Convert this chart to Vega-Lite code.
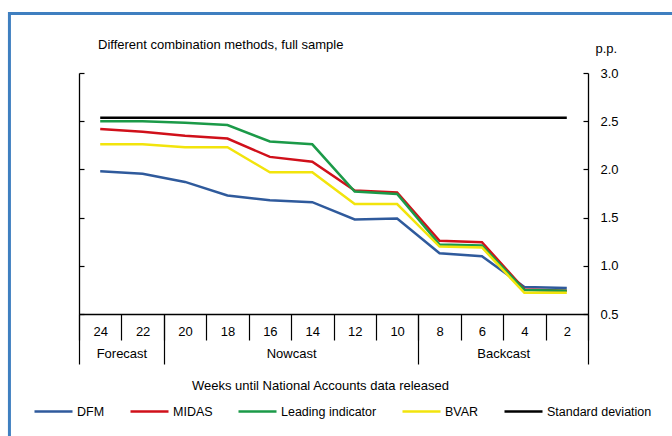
{
  "$schema": "https://vega.github.io/schema/vega-lite/v6.json",
  "width": 509,
  "height": 241,
  "autosize": {"type": "none"},
  "padding": {"left": 79, "top": 73, "right": 84, "bottom": 122},
  "background": "white",
  "config": {
    "font": "Liberation Sans",
    "view": {"stroke": null},
    "axis": {"labelColor": "black", "labelFontSize": 13, "titleColor": "black", "titleFontSize": 13, "titleFontWeight": "normal", "domainColor": "black", "domainWidth": 1.3, "tickColor": "black", "tickWidth": 1.2, "grid": false, "labelFlush": false},
    "legend": {"labelFontSize": 12.5, "labelColor": "black"}
  },
  "title": {"text": "Different combination methods, full sample", "anchor": "start", "frame": "group", "dx": 19, "dy": 40, "fontSize": 13, "fontWeight": "normal", "color": "black", "offset": 0},
  "data": {"values": [
    {"series": "DFM", "week": 24, "value": 1.98},
    {"series": "DFM", "week": 22, "value": 1.955},
    {"series": "DFM", "week": 20, "value": 1.87},
    {"series": "DFM", "week": 18, "value": 1.73},
    {"series": "DFM", "week": 16, "value": 1.68},
    {"series": "DFM", "week": 14, "value": 1.66},
    {"series": "DFM", "week": 12, "value": 1.48},
    {"series": "DFM", "week": 10, "value": 1.49},
    {"series": "DFM", "week": 8, "value": 1.13},
    {"series": "DFM", "week": 6, "value": 1.10},
    {"series": "DFM", "week": 4, "value": 0.78},
    {"series": "DFM", "week": 2, "value": 0.77},
    {"series": "MIDAS", "week": 24, "value": 2.42},
    {"series": "MIDAS", "week": 22, "value": 2.39},
    {"series": "MIDAS", "week": 20, "value": 2.35},
    {"series": "MIDAS", "week": 18, "value": 2.32},
    {"series": "MIDAS", "week": 16, "value": 2.13},
    {"series": "MIDAS", "week": 14, "value": 2.08},
    {"series": "MIDAS", "week": 12, "value": 1.78},
    {"series": "MIDAS", "week": 10, "value": 1.76},
    {"series": "MIDAS", "week": 8, "value": 1.26},
    {"series": "MIDAS", "week": 6, "value": 1.245},
    {"series": "MIDAS", "week": 4, "value": 0.755},
    {"series": "MIDAS", "week": 2, "value": 0.74},
    {"series": "Leading indicator", "week": 24, "value": 2.50},
    {"series": "Leading indicator", "week": 22, "value": 2.50},
    {"series": "Leading indicator", "week": 20, "value": 2.485},
    {"series": "Leading indicator", "week": 18, "value": 2.46},
    {"series": "Leading indicator", "week": 16, "value": 2.29},
    {"series": "Leading indicator", "week": 14, "value": 2.26},
    {"series": "Leading indicator", "week": 12, "value": 1.77},
    {"series": "Leading indicator", "week": 10, "value": 1.745},
    {"series": "Leading indicator", "week": 8, "value": 1.22},
    {"series": "Leading indicator", "week": 6, "value": 1.21},
    {"series": "Leading indicator", "week": 4, "value": 0.75},
    {"series": "Leading indicator", "week": 2, "value": 0.74},
    {"series": "BVAR", "week": 24, "value": 2.26},
    {"series": "BVAR", "week": 22, "value": 2.26},
    {"series": "BVAR", "week": 20, "value": 2.23},
    {"series": "BVAR", "week": 18, "value": 2.23},
    {"series": "BVAR", "week": 16, "value": 1.97},
    {"series": "BVAR", "week": 14, "value": 1.97},
    {"series": "BVAR", "week": 12, "value": 1.64},
    {"series": "BVAR", "week": 10, "value": 1.64},
    {"series": "BVAR", "week": 8, "value": 1.20},
    {"series": "BVAR", "week": 6, "value": 1.19},
    {"series": "BVAR", "week": 4, "value": 0.72},
    {"series": "BVAR", "week": 2, "value": 0.72},
    {"series": "Standard deviation", "week": 24, "value": 2.535},
    {"series": "Standard deviation", "week": 22, "value": 2.535},
    {"series": "Standard deviation", "week": 20, "value": 2.535},
    {"series": "Standard deviation", "week": 18, "value": 2.535},
    {"series": "Standard deviation", "week": 16, "value": 2.535},
    {"series": "Standard deviation", "week": 14, "value": 2.535},
    {"series": "Standard deviation", "week": 12, "value": 2.535},
    {"series": "Standard deviation", "week": 10, "value": 2.535},
    {"series": "Standard deviation", "week": 8, "value": 2.535},
    {"series": "Standard deviation", "week": 6, "value": 2.535},
    {"series": "Standard deviation", "week": 4, "value": 2.535},
    {"series": "Standard deviation", "week": 2, "value": 2.535}
  ]},
  "layer": [
    {
      "transform": [{"filter": "datum.series === 'DFM'"}],
      "mark": {"type": "line", "strokeWidth": 2.5},
      "encoding": {
        "x": {"field": "week", "type": "quantitative", "scale": {"domain": [25, 1], "nice": false, "zero": false},
              "axis": {"orient": "bottom", "values": [24, 22, 20, 18, 16, 14, 12, 10, 8, 6, 4, 2], "ticks": false, "domain": true, "labelPadding": 17, "labelBaseline": "middle", "title": null}},
        "y": {"field": "value", "type": "quantitative", "scale": {"domain": [0.5, 3], "nice": false, "zero": false},
              "axis": {"orient": "left", "values": [0.5, 1, 1.5, 2, 2.5, 3], "labels": false, "tickSize": -5, "domain": true, "title": null}},
        "color": {"field": "series", "type": "nominal",
                  "scale": {"domain": ["DFM", "MIDAS", "Leading indicator", "BVAR", "Standard deviation"], "range": ["#2f5a9c", "#d0101a", "#1b9a48", "#f2e40c", "#000000"]},
                  "legend": {"orient": "none", "legendX": -46, "legendY": 318, "direction": "horizontal", "columns": 5, "title": null, "symbolType": "stroke", "symbolSize": 1444, "symbolStrokeWidth": 2.5, "labelOffset": 3, "columnPadding": 20, "labelFontSize": 12.5}}
      }
    },
    {
      "transform": [{"filter": "datum.series === 'MIDAS'"}],
      "mark": {"type": "line", "strokeWidth": 2.5},
      "encoding": {
        "x": {"field": "week", "type": "quantitative", "scale": {"domain": [25, 1], "nice": false, "zero": false},
              "axis": {"orient": "bottom", "values": [25, 23, 21, 19, 17, 15, 13, 11, 9, 7, 5, 3, 1], "labels": false, "domain": false, "tickSize": 26, "title": null}},
        "y": {"field": "value", "type": "quantitative", "scale": {"domain": [0.5, 3], "nice": false, "zero": false},
              "axis": {"orient": "right", "values": [0.5, 1, 1.5, 2, 2.5, 3], "format": ".1f", "tickSize": -5, "labelPadding": 17, "domain": true,
                       "title": "p.p.", "titleAngle": 0, "titleAlign": "left", "titleBaseline": "alphabetic", "titleX": 7, "titleY": -21}},
        "color": {"field": "series", "type": "nominal"}
      }
    },
    {
      "transform": [{"filter": "datum.series === 'Leading indicator'"}],
      "mark": {"type": "line", "strokeWidth": 2.5},
      "encoding": {
        "x": {"field": "week", "type": "quantitative", "scale": {"domain": [25, 1], "nice": false, "zero": false},
              "axis": {"orient": "bottom", "values": [25, 21, 9, 1], "labels": false, "domain": false, "tickSize": 50, "title": null}},
        "y": {"field": "value", "type": "quantitative", "scale": {"domain": [0.5, 3], "nice": false, "zero": false}, "axis": null},
        "color": {"field": "series", "type": "nominal"}
      }
    },
    {
      "transform": [{"filter": "datum.series === 'BVAR'"}],
      "mark": {"type": "line", "strokeWidth": 2.5},
      "encoding": {
        "x": {"field": "week", "type": "quantitative", "scale": {"domain": [25, 1], "nice": false, "zero": false},
              "axis": {"orient": "bottom", "values": [23, 15, 5], "labelExpr": "datum.value == 23 ? 'Forecast' : datum.value == 15 ? 'Nowcast' : 'Backcast'", "ticks": false, "domain": false, "labelPadding": 39, "labelBaseline": "middle",
                       "title": "Weeks until National Accounts data released", "titleX": 241, "titleY": 71, "titleAlign": "center", "titleBaseline": "middle"}},
        "y": {"field": "value", "type": "quantitative", "scale": {"domain": [0.5, 3], "nice": false, "zero": false}, "axis": null},
        "color": {"field": "series", "type": "nominal"}
      }
    },
    {
      "transform": [{"filter": "datum.series === 'Standard deviation'"}],
      "mark": {"type": "line", "strokeWidth": 2.5},
      "encoding": {
        "x": {"field": "week", "type": "quantitative", "scale": {"domain": [25, 1], "nice": false, "zero": false}, "axis": null},
        "y": {"field": "value", "type": "quantitative", "scale": {"domain": [0.5, 3], "nice": false, "zero": false}, "axis": null},
        "color": {"field": "series", "type": "nominal"}
      }
    },
    {
      "data": {"values": [{}]},
      "mark": {"type": "rect", "filled": false, "stroke": "#3f7fc0", "strokeWidth": 3, "clip": false},
      "encoding": {
        "x": {"datum": 28.28, "type": "quantitative", "scale": {"domain": [25, 1], "nice": false, "zero": false}, "axis": null},
        "x2": {"datum": -3.8},
        "y": {"datum": 3.617, "type": "quantitative", "scale": {"domain": [0.5, 3], "nice": false, "zero": false}, "axis": null},
        "y2": {"datum": -0.91}
      }
    }
  ],
  "resolve": {"scale": {"x": "independent", "y": "independent"}, "axis": {"x": "independent", "y": "independent"}}
}
